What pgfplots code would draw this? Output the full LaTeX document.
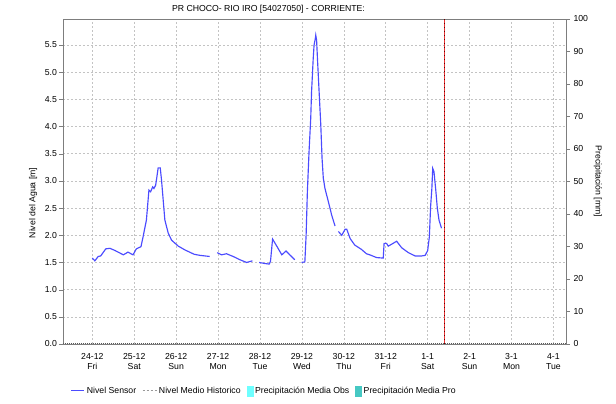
\documentclass[border=0pt]{standalone}
\usepackage{pgfplots}
\pgfplotsset{compat=1.18}
\usepackage{fontspec}
\setmainfont{Liberation Sans}
\definecolor{sensor}{RGB}{75,75,255}
\definecolor{gridc}{RGB}{195,195,195}
\definecolor{axc}{RGB}{125,125,125}
\definecolor{obs}{RGB}{110,255,255}
\definecolor{pro}{RGB}{70,200,195}
\definecolor{redl}{RGB}{230,50,50}
\newcommand{\fs}{\fontsize{8.7bp}{10bp}\selectfont}
\pgfplotsset{
  lineleg/.style={legend image code/.code={\draw[##1] (0bp,0bp) -- (13bp,0bp);}},
  dotleg/.style={legend image code/.code={\draw[##1] (0bp,0bp) -- (14bp,0bp);}},
  boxleg/.style={legend image code/.code={\fill[##1] (0bp,-5bp) rectangle (6bp,5bp);}},
}
\begin{document}
\begin{tikzpicture}
\begin{axis}[
  scale only axis, width=503bp, height=325bp,
  xmin=-0.7, xmax=11.3, ymin=0, ymax=5.978,
  axis line style={axc},
  xtick={0,...,11},
  xticklabels={{24-12\\Fri},{25-12\\Sat},{26-12\\Sun},{27-12\\Mon},{28-12\\Tue},{29-12\\Wed},{30-12\\Thu},{31-12\\Fri},{1-1\\Sat},{2-1\\Sun},{3-1\\Mon},{4-1\\Tue}},
  xticklabel style={align=center, font=\fs, inner sep=0pt, yshift=-5bp},
  ytick={0,0.5,1,1.5,2,2.5,3,3.5,4,4.5,5,5.5},
  yticklabel style={font=\fs, xshift=1.5bp, /pgf/number format/.cd, fixed, fixed zerofill, precision=1, assume math mode=true},
  xtick pos=bottom, ytick pos=left,
  tick align=outside, major tick length=4bp,
  xtick style={draw=none}, ytick style={axc},
  grid=major, major grid style={gridc, dash pattern=on 2bp off 2bp, line width=0.6bp},
  unbounded coords=jump,
  every axis y label/.style={at={(axis description cs:-0.0596,0.434)}, rotate=90, anchor=center, font=\fs},
  ylabel={Nivel del Agua [m]},
  every axis title/.style={at={(axis description cs:0.4085,1)}, anchor=center, yshift=9.5bp, font=\fs},
  title={PR CHOCO- RIO IRO [54027050] - CORRIENTE:},
  legend columns=4,
  legend style={at={(axis description cs:0.4000,-0.1437)}, anchor=center, draw=none, fill=none, font=\fs,
    inner sep=0pt, cells={anchor=west}, /tikz/every even column/.append style={column sep=4bp}},
]
\addlegendimage{sensor, line width=1.1bp, lineleg}
\addlegendentry{Nivel Sensor}
\addlegendimage{gray!80, line width=0.8bp, dash pattern=on 2bp off 2bp, dotleg}
\addlegendentry{Nivel Medio Historico}
\addlegendimage{obs, boxleg}
\addlegendentry{Precipitación Media Obs}
\addlegendimage{pro, boxleg}
\addlegendentry{Precipitación Media Pro}

\addplot[forget plot, black!65, line width=1.3bp, dash pattern=on 1bp off 1bp] coordinates {(-0.7,0) (11.3,0)};

\addplot[forget plot, sensor, line width=1.15bp] coordinates {
(0.00,1.58)(0.06,1.53)(0.14,1.61)(0.20,1.62)(0.32,1.75)(0.42,1.76)(0.54,1.72)(0.74,1.64)(0.85,1.69)(0.97,1.64)(1.05,1.75)(1.16,1.79)(1.21,1.97)(1.29,2.28)(1.35,2.83)(1.39,2.80)(1.44,2.89)(1.47,2.86)(1.51,2.92)(1.53,3.02)(1.57,3.24)(1.62,3.24)(1.65,3.02)(1.69,2.65)(1.73,2.28)(1.81,2.04)(1.89,1.91)(2.05,1.80)(2.21,1.73)(2.43,1.65)(2.57,1.63)(2.80,1.61)
(2.89,nan)
(2.98,1.68)(3.08,1.64)(3.20,1.66)(3.36,1.61)(3.52,1.55)(3.68,1.50)(3.82,1.53)
(3.90,nan)
(3.98,1.50)(4.12,1.48)(4.22,1.47)(4.25,1.52)(4.30,1.93)(4.40,1.80)(4.52,1.64)(4.62,1.71)(4.71,1.64)(4.83,1.55)
(4.91,nan)
(4.99,1.50)(5.07,1.51)(5.10,2.00)(5.13,2.80)(5.17,3.54)(5.21,4.15)(5.23,4.64)(5.27,5.26)(5.29,5.50)(5.32,5.62)(5.33,5.68)(5.35,5.59)(5.37,5.26)(5.41,4.64)(5.45,4.03)(5.48,3.42)(5.51,3.05)(5.55,2.86)(5.63,2.62)(5.71,2.37)(5.79,2.17)
(5.83,nan)
(5.87,2.07)(5.95,2.00)(6.03,2.11)(6.07,2.11)(6.15,1.94)(6.26,1.82)(6.42,1.74)(6.54,1.66)(6.62,1.64)(6.78,1.59)(6.94,1.58)(6.96,1.85)(7.02,1.85)(7.06,1.80)(7.15,1.84)(7.26,1.89)(7.38,1.77)(7.54,1.68)(7.70,1.62)(7.86,1.62)(7.94,1.63)(8.00,1.72)(8.04,1.97)(8.07,2.53)(8.10,2.86)(8.12,3.23)(8.15,3.17)(8.19,2.86)(8.23,2.50)(8.27,2.28)(8.33,2.13)
};

\addplot[forget plot, redl, line width=1.2bp] coordinates {(8.41,0) (8.41,5.978)};
\addplot[forget plot, red!40!black, line width=1.2bp, dash pattern=on 1.2bp off 2.8bp] coordinates {(8.41,0) (8.41,5.978)};
\end{axis}
\begin{axis}[
  scale only axis, width=503bp, height=325bp,
  xmin=-0.7, xmax=11.3, ymin=0, ymax=100,
  axis y line*=right, axis x line=none,
  axis line style={axc},
  ytick={0,10,...,100},
  yticklabel style={font=\fs, /pgf/number format/assume math mode=true},
  tick align=outside, major tick length=4bp, ytick style={axc},
  every axis y label/.style={at={(axis description cs:1.0636,0.5)}, rotate=-90, anchor=center, font=\fs},
  ylabel={Precipitación [mm]},
]
\addplot[draw=none, forget plot] coordinates {(0,0) (1,0)};
\end{axis}
\pgfresetboundingbox
\path (-63bp,-60bp) rectangle (553bp,344bp);
\end{tikzpicture}
\end{document}
